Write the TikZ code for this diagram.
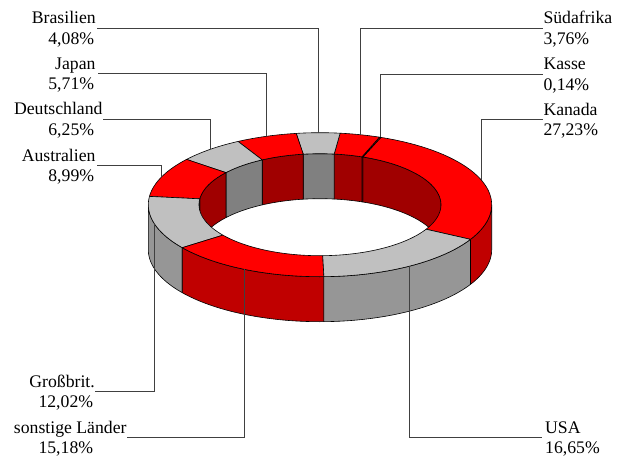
\documentclass[tikz,border=0pt]{standalone}
\usepackage{fontspec}
\setmainfont{Liberation Serif}
\definecolor{topred}{RGB}{255,0,0}
\definecolor{topgrey}{RGB}{192,192,192}
\definecolor{sidered}{RGB}{192,0,0}
\definecolor{sidegrey}{RGB}{150,150,150}
\definecolor{innerred}{RGB}{160,0,0}
\definecolor{innergrey}{RGB}{128,128,128}
\def\RCx{320}\def\RCy{204.7}\def\RA{171.7}\def\RB{72}\def\RIA{121}\def\RIB{51}\def\RH{45}
\newcommand\topslice[3]{\filldraw[ring,fill=#3] plot[domain=#1:#2,samples=40] ({\RCx+\RA*cos(\x)},{\RCy-\RB*sin(\x)}) -- plot[domain=#2:#1,samples=40] ({\RCx+\RIA*cos(\x)},{\RCy-\RIB*sin(\x)}) -- cycle;}
\newcommand\sideslice[3]{\filldraw[ring,fill=#3] plot[domain=#1:#2,samples=40] ({\RCx+\RA*cos(\x)},{\RCy-\RB*sin(\x)}) -- plot[domain=#2:#1,samples=40] ({\RCx+\RA*cos(\x)},{\RCy+\RH-\RB*sin(\x)}) -- cycle;}
\newcommand\innerslice[3]{\filldraw[ring,fill=#3] plot[domain=#1:#2,samples=40] ({\RCx+\RIA*cos(\x)},{\RCy-\RIB*sin(\x)}) -- plot[domain=#2:#1,samples=40] ({\RCx+\RIA*cos(\x)},{\RCy+\RH-\RIB*sin(\x)}) -- cycle;}
\newcommand\rimpoint[2]{\coordinate (#1) at ({\RCx+\RA*cos(#2)},{\RCy-\RB*sin(#2)});}
\begin{document}
\begin{tikzpicture}[x=1pt,y=-1pt,
  ring/.style={draw=black,line width=0.6pt,line join=round},
  lead/.style={draw=black!75,line width=0.9pt},
  lab/.style={font=\fontsize{17.7}{20}\selectfont,inner sep=0pt}]
\useasboundingbox (0,0) rectangle (631,460);
% inner walls (back half)
\innerslice{0}{69.23}{innerred}
\innerslice{69.23}{69.734}{innerred}
\innerslice{69.734}{83.27}{innerred}
\innerslice{83.27}{97.958}{innergrey}
\innerslice{97.958}{118.514}{innerred}
\innerslice{118.514}{141.014}{innergrey}
\innerslice{141.014}{173.378}{innerred}
\innerslice{173.378}{180}{innergrey}
% outer side walls (front half)
\sideslice{180}{216.65}{sidegrey}
\sideslice{216.65}{271.298}{sidered}
\sideslice{271.298}{331.238}{sidegrey}
\sideslice{331.238}{360}{sidered}
% top surface
\topslice{331.238}{429.23}{topred}
\topslice{69.23}{69.734}{topred}
\topslice{69.734}{83.27}{topred}
\topslice{83.27}{97.958}{topgrey}
\topslice{97.958}{118.514}{topred}
\topslice{118.514}{141.014}{topgrey}
\topslice{141.014}{173.378}{topred}
\topslice{173.378}{216.65}{topgrey}
\topslice{216.65}{271.298}{topred}
\topslice{271.298}{331.238}{topgrey}
% rim points
\rimpoint{pKasse}{69.48}
\rimpoint{pSued}{76.50}
\rimpoint{pBras}{90.61}
\rimpoint{pJap}{108.24}
\rimpoint{pDeu}{129.76}
\rimpoint{pAus}{157.2}
\rimpoint{pGross}{195.01}
\rimpoint{pSonst}{243.97}
\rimpoint{pUSA}{301.27}
\rimpoint{pKan}{20.23}
% label attach points
\coordinate (aBras) at (97,28.3);
\coordinate (aJap) at (97.5,73.6);
\coordinate (aDeu) at (103.3,119);
\coordinate (aAus) at (96.7,165.7);
\coordinate (aSued) at (543.3,28.3);
\coordinate (aKasse) at (543.3,74);
\coordinate (aKan) at (543.3,119.3);
\coordinate (aGross) at (95.3,391.7);
\coordinate (aSonst) at (127.3,437.7);
\coordinate (aUSA) at (541.7,437.3);
% leaders
\draw[lead] (pBras) |- (aBras);
\draw[lead] (pJap) |- (aJap);
\draw[lead] (pDeu) |- (aDeu);
\draw[lead] (pAus) |- (aAus);
\draw[lead] (pSued) |- (aSued);
\draw[lead] (pKasse) |- (aKasse);
\draw[lead] (pKan) |- (aKan);
\draw[lead] (pGross) |- (aGross);
\draw[lead] (pSonst) |- (aSonst);
\draw[lead] (pUSA) |- (aUSA);
% labels
\node[lab,anchor=base east] (nBras) at (96,24) {Brasilien};
\node[lab,anchor=base east] (vBras) at (94.3,44.3) {4,08\%};
\node[lab,anchor=base east] (nJap) at (95.7,69.3) {Japan};
\node[lab,anchor=base east] (vJap) at (94.3,89.6) {5,71\%};
\node[lab,anchor=base east] (nDeu) at (102.7,114.7) {Deutschland};
\node[lab,anchor=base east] (vDeu) at (94.3,135) {6,25\%};
\node[lab,anchor=base east] (nAus) at (95.7,161.4) {Australien};
\node[lab,anchor=base east] (vAus) at (94.3,181.7) {8,99\%};
\node[lab,anchor=base west] (nSued) at (543.3,24) {Südafrika};
\node[lab,anchor=base west] (vSued) at (543.3,44.3) {3,76\%};
\node[lab,anchor=base west] (nKasse) at (543.3,69.7) {Kasse};
\node[lab,anchor=base west] (vKasse) at (543.3,90) {0,14\%};
\node[lab,anchor=base west] (nKan) at (543.3,115) {Kanada};
\node[lab,anchor=base west] (vKan) at (543.3,135.3) {27,23\%};
\node[lab,anchor=base east] (nGross) at (95,387.4) {Großbrit.};
\node[lab,anchor=base east] (vGross) at (93.3,407.7) {12,02\%};
\node[lab,anchor=base east] (nSonst) at (126.7,433.4) {sonstige Länder};
\node[lab,anchor=base east] (vSonst) at (93.3,453.7) {15,18\%};
\node[lab,anchor=base west] (nUSA) at (545,433.3) {USA};
\node[lab,anchor=base west] (vUSA) at (545,453.6) {16,65\%};
\end{tikzpicture}
\end{document}
